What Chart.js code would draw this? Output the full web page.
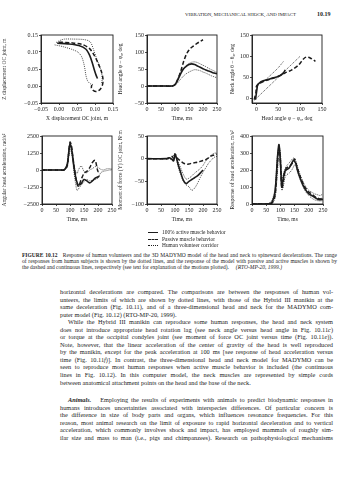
<!DOCTYPE html>
<html>
<head>
<meta charset="utf-8">
<script src="https://cdn.jsdelivr.net/npm/chart.js@4.4.0/dist/chart.umd.min.js"></script>
<style>
html, body { margin: 0; padding: 0; background: #fff; }
body { width: 348px; height: 480px; position: relative; overflow: hidden;
       font-family: 'Liberation Serif', 'DejaVu Serif', serif; color: #1c1c1c; }
canvas { position: absolute; }
.hdr { position: absolute; top: 12px; left: 185px; font-size: 4.9px; white-space: nowrap; }
.pg { position: absolute; top: 11px; left: 317px; font-size: 6px; font-weight: bold; }
.legend { position: absolute; left: 148px; top: 229px; font-size: 5.4px; line-height: 6.6px; }
.legend span { display: inline-block; width: 10px; margin-right: 4px; vertical-align: middle; border-top: 1.4px solid #1c1c1c; }
.legend .dash { border-top-style: dashed; }
.legend .dot { border-top: 1px dotted #1c1c1c; }
.cap { position: absolute; left: 22px; width: 315px; top: 252px; font-size: 5.5px; line-height: 6.1px; }
.cap div, .body div { white-space: nowrap; text-align: justify; text-align-last: justify; }
.cap div.last, .body div.last { text-align-last: left; }
.body { position: absolute; left: 60px; width: 273px; font-size: 6.3px; line-height: 7.55px; }
.ind { text-indent: 8px; }
</style>
</head>
<body>
<div class="hdr">VIBRATION, MECHANICAL SHOCK, AND IMPACT</div>
<div class="pg">10.19</div>

<canvas id="c1" width="120" height="93" style="left:0px;top:29px"></canvas>
<canvas id="c2" width="108" height="93" style="left:116px;top:29px"></canvas>
<canvas id="c3" width="101" height="93" style="left:228px;top:29px"></canvas>
<canvas id="c4" width="119" height="99" style="left:0px;top:124px"></canvas>
<canvas id="c5" width="108" height="99" style="left:116px;top:124px"></canvas>
<canvas id="c6" width="102" height="99" style="left:228px;top:124px"></canvas>

<div class="legend">
  <div><span></span>100% active muscle behavior</div>
  <div><span class="dash"></span>Passive muscle behavior</div>
  <div><span class="dot"></span>Human volunteer corridor</div>
</div>

<div class="cap">
  <div><b>FIGURE 10.12</b>&nbsp;&nbsp; Response of human volunteers and the 3D MADYMO model of the head and neck to spineward decelerations. The range</div>
  <div>of responses from human subjects is shown by the dotted lines, and the response of the model with passive and active muscles is shown by</div>
  <div class="last">the dashed and continuous lines, respectively (see text for explanation of the motions plotted).&nbsp;&nbsp;&nbsp;&nbsp; <i>(RTO-MP-20, 1999.)</i></div>
</div>

<div class="body" style="top:288px">
  <div>horizontal decelerations are compared. The comparisons are between the responses of human vol-</div>
  <div>unteers, the limits of which are shown by dotted lines, with those of the Hybrid III manikin at the</div>
  <div>same deceleration (Fig. 10.11), and of a three-dimensional head and neck for the MADYMO com-</div>
  <div class="last">puter model (Fig. 10.12) (RTO-MP-20, 1999).</div>
  <div class="ind">While the Hybrid III manikin can reproduce some human responses, the head and neck system</div>
  <div>does not introduce appropriate head rotation lag (see neck angle versus head angle in Fig. 10.11<i>c</i>)</div>
  <div>or torque at the occipital condyles joint (see moment of force OC joint versus time (Fig. 10.11<i>e</i>)).</div>
  <div>Note, however, that the linear acceleration of the center of gravity of the head is well reproduced</div>
  <div>by the manikin, except for the peak acceleration at 100 ms [see response of head acceleration versus</div>
  <div>time (Fig. 10.11<i>f</i>)]. In contrast, the three-dimensional head and neck model for MADYMO can be</div>
  <div>seen to reproduce most human responses when active muscle behavior is included (the continuous</div>
  <div>lines in Fig. 10.12). In this computer model, the neck muscles are represented by simple cords</div>
  <div class="last">between anatomical attachment points on the head and the base of the neck.</div>
</div>
<div class="body" style="top:396px">
  <div class="ind"><b><i>Animals.</i></b>&nbsp;&nbsp; Employing the results of experiments with animals to predict biodynamic responses in</div>
  <div>humans introduces uncertainties associated with interspecies differences. Of particular concern is</div>
  <div>the difference in size of body parts and organs, which influences resonance frequencies. For this</div>
  <div>reason, most animal research on the limit of exposure to rapid horizontal deceleration and to vertical</div>
  <div>acceleration, which commonly involves shock and impact, has employed mammals of roughly sim-</div>
  <div>ilar size and mass to man (i.e., pigs and chimpanzees). Research on pathophysiological mechanisms</div>
</div>

<script>
const FONT = "'Liberation Serif', 'DejaVu Serif', serif";
const INK = '#1c1c1c';

// (a) Z vs X displacement of the OC joint, m
const dispActiveX  = [-0.005, 0.025, 0.055, 0.075, 0.086, 0.093, 0.098, 0.103, 0.107];
const dispActiveZ  = [0.126, 0.124, 0.119, 0.108, 0.088, 0.066, 0.048, 0.032, 0.022];
const dispPassiveX = [0.000, 0.035, 0.065, 0.085, 0.098, 0.108, 0.117, 0.122, 0.121, 0.114, 0.104, 0.095, 0.090, 0.091];
const dispPassiveZ = [0.129, 0.127, 0.122, 0.110, 0.090, 0.068, 0.045, 0.022, 0.004, -0.010, -0.016, -0.013, -0.005, 0.003];
const dispHumanUpX = [-0.008, 0.005, 0.015, 0.040, 0.065, 0.080, 0.088, 0.095, 0.103, 0.112, 0.118, 0.120, 0.117];
const dispHumanUpZ = [0.128, 0.135, 0.138, 0.138, 0.137, 0.134, 0.128, 0.110, 0.085, 0.060, 0.040, 0.020, 0.005];
const dispHumanLoX = [-0.012, 0.010, 0.035, 0.052, 0.062, 0.068, 0.072, 0.075, 0.080, 0.088, 0.096];
const dispHumanLoZ = [0.121, 0.116, 0.108, 0.100, 0.088, 0.070, 0.050, 0.030, 0.014, 0.006, 0.004];
const dispTicks = [-0.05, 0, 0.05, 0.10, 0.15];

// (b) head angle vs time, deg
const angT           = [0, 50, 90, 100, 110, 120, 130, 140, 150, 160, 170, 180, 190, 200, 210, 220, 230, 240, 250];
const headAngActive  = [0, 0, 0, 4, 18, 36, 50, 58, 63, 65, 63, 59, 55, 51, 47, 44, 41, 38, 36];
const headAngHumUp   = [0, 0, 0, 5, 22, 40, 52, 60, 66, 70, 71, 69, 65, 61, 57, 52, 48, 44, 40];
const headAngHumLo   = [0, 0, 0, 2, 10, 20, 29, 36, 41, 45, 48, 47, 45, 41, 38, 34, 30, 27, 24];
const angPassiveT    = [0, 50, 90, 100, 110, 120, 130, 140, 150, 160, 170, 180, 190, 200];
const headAngPassive = [0, 0, 0, 4, 20, 42, 70, 92, 106, 114, 120, 126, 131, 136];

// (c) neck angle vs head angle, deg
const neckActiveX  = [-2, 1, 3, 8, 13, 22, 32, 42, 51, 58, 62, 66];
const neckActiveY  = [-2, 20, 33, 38, 41, 44, 47, 50, 53, 57, 61, 68];
const neckPassiveX = [-5, -1, 0, 4, 9, 25, 40, 55, 66, 81, 97, 107, 114, 123, 135];
const neckPassiveY = [-2, 15, 29, 34, 37, 44, 49, 55, 61, 68, 80, 93, 98, 96, 88];
const neckHumUpX   = [0, 5, 17, 35, 50, 62];
const neckHumUpY   = [20, 34, 41, 58, 73, 88];
const neckHumLoX   = [-6, 100];
const neckHumLoY   = [-5, 100];
const angleTicks = [0, 50, 100, 150];

// (d) angular head acceleration vs time, rad/s2
const accT       = [0, 60, 80, 90, 95, 100, 105, 110, 115, 120, 125, 130, 140, 150, 160, 170, 180, 190, 200, 210, 220, 230, 240, 250];
const accHumUp   = [0, 0, 30, 500, 1400, 2000, 1700, 1000, 300, -100, -300, 0, 300, -100, -200, 0, 100, 250, 200, 50, 0, 80, 100, 60];
const accHumLo   = [0, 0, 0, 200, 900, 1500, 1300, 600, -300, -1000, -1500, -1400, -1100, -900, -700, -800, -750, -700, -600, -200, -100, -50, 0, 0];
const accActT    = [0, 60, 80, 90, 95, 100, 105, 110, 115, 120, 125, 130, 140, 150, 160, 170, 180, 190, 200, 205];
const accActive  = [0, 0, 20, 400, 1200, 1900, 1600, 900, 100, -500, -900, -1100, -1000, -700, -800, -950, -800, -600, -500, -450];
const accPasT    = [0, 60, 80, 90, 95, 100, 105, 110, 115, 120, 125, 130, 140, 150, 160, 170, 180, 190, 200, 210];
const accPassive = [0, 0, 10, 300, 1100, 2050, 1800, 1000, 200, -500, -1000, -1200, -700, -250, -100, 150, 550, 700, -100, -150];

// (e) moment of force (Y) at OC joint vs time, N m
const momT       = [0, 70, 80, 90, 95, 100, 105, 110, 120, 130, 140, 150, 160, 170, 180, 190, 200, 210, 220, 230, 240, 250];
const momPassive = [0, 0, 2, 5, 0, 10, 5, 0, -5, -10, -12, -12, -10, -9, -8, -6, -4, -2, 2, 6, 8, 10];
const momHumUp   = [0, 0, 0, 3, 8, 12, 5, -5, -20, -35, -45, -43, -38, -32, -27, -22, -15, -5, 2, 8, 12, 12];
const momHumLo   = [0, 0, 0, -3, -5, 5, 0, -15, -35, -50, -58, -62, -70, -65, -55, -42, -30, -20, -10, -3, 3, 5];
const momActT    = [0, 70, 80, 90, 95, 100, 105, 110, 120, 130, 140, 150, 160, 170, 180, 190, 200];
const momActive  = [0, 0, 2, -2, -5, 8, 2, -10, -30, -48, -55, -50, -46, -42, -38, -32, -25];

// (f) head acceleration vs time, m/s2
const linT       = [0, 50, 60, 70, 80, 85, 90, 95, 100, 105, 110, 115, 120, 130, 140, 145, 150, 155, 160, 170, 180, 190, 200, 210, 220, 230, 240, 250];
const linActive  = [0, 0, 2, 10, 60, 150, 280, 350, 250, 100, 150, 190, 200, 210, 240, 255, 250, 235, 200, 150, 110, 80, 60, 50, 40, 30, 25, 30];
const linPassive = [0, 0, 0, 5, 40, 120, 250, 330, 260, 90, 130, 180, 210, 220, 235, 250, 265, 240, 210, 160, 120, 90, 70, 60, 45, 35, 30, 35];
const linHumUp   = [0, 0, 5, 20, 80, 170, 290, 340, 300, 150, 170, 200, 220, 240, 260, 270, 265, 250, 220, 170, 130, 100, 80, 70, 60, 55, 50, 60];
const linHumLo   = [0, 0, 0, 2, 30, 90, 200, 280, 220, 80, 100, 150, 170, 180, 200, 215, 230, 220, 190, 140, 100, 70, 50, 35, 25, 20, 18, 20];

const timeTicks = [0, 50, 100, 150, 200, 250];

function pts(xs, ys) {
    return xs.map((x, i) => ({ x: x, y: ys[i] }));
}

// line looks: continuous = active, dashed = passive, dotted = volunteers
function line(kind, xs, ys) {
    const base = { data: pts(xs, ys), showLine: true, pointRadius: 0, borderColor: INK, fill: false, tension: 0.3 };
    if (kind === 'solid') return { ...base, borderWidth: 1.6 };
    if (kind === 'dash') return { ...base, borderWidth: 1.5, borderDash: [4, 2.2] };
    return { ...base, borderWidth: 0.8, borderDash: [1, 1.1] };
}

function minus(s) { return String(s).replace('-', '\u2212'); }

function axis(opts) {
    const ax = {
        type: 'linear', min: opts.min, max: opts.max,
        afterBuildTicks: s => { s.ticks = opts.ticks.map(v => ({ value: v })); },
        afterFit: s => { if (opts.size.w) s.width = opts.size.w; else s.height = opts.size.h; },
        ticks: {
            autoSkip: false, maxRotation: 0, padding: 1, color: INK,
            font: { size: 6, family: FONT },
            callback: v => minus(opts.fmt ? opts.fmt(v) : v)
        },
        grid: { drawOnChartArea: false, drawTicks: true, tickLength: 2, color: INK, lineWidth: 0.8 },
        border: { color: INK, width: 0.9 },
        title: { display: true, text: opts.title, color: INK, font: { size: 5.5, family: FONT }, padding: { top: 1, bottom: 0 } }
    };
    return ax;
}

const framePlugin = {
    id: 'frame',
    afterDraw(chart) {
        const a = chart.chartArea, ctx = chart.ctx;
        ctx.save();
        ctx.strokeStyle = INK;
        ctx.lineWidth = 0.9;
        ctx.strokeRect(a.left, a.top, a.right - a.left, a.bottom - a.top);
        ctx.restore();
    }
};

function makeChart(id, datasets, xAxis, yAxis, padTop) {
    return new Chart(document.getElementById(id), {
        type: 'scatter',
        data: { datasets: datasets },
        options: {
            responsive: false,
            animation: false,
            layout: { padding: { top: padTop, right: 7, left: 0, bottom: 0 } },
            plugins: { legend: { display: false }, tooltip: { enabled: false } },
            scales: { x: xAxis, y: yAxis }
        },
        plugins: [framePlugin]
    });
}

const two = v => v.toFixed(2);

makeChart('c1', [
    line('dot', dispHumanUpX, dispHumanUpZ),
    line('dot', dispHumanLoX, dispHumanLoZ),
    line('dash', dispPassiveX, dispPassiveZ),
    line('solid', dispActiveX, dispActiveZ)
],
    axis({ min: -0.05, max: 0.15, ticks: dispTicks, fmt: two, title: 'X displacement OC joint, m', size: { h: 19 } }),
    axis({ min: -0.05, max: 0.15, ticks: dispTicks, fmt: two, title: 'Z displacement OC joint, m', size: { w: 41 } }), 6);

makeChart('c2', [
    line('dot', angT, headAngHumUp),
    line('dot', angT, headAngHumLo),
    line('dash', angPassiveT, headAngPassive),
    line('solid', angT, headAngActive)
],
    axis({ min: 0, max: 250, ticks: timeTicks, title: 'Time, ms', size: { h: 19 } }),
    axis({ min: -50, max: 150, ticks: [-50, 0, 50, 100, 150], title: 'Head angle \u03c6 \u2212 \u03c6\u2080, deg', size: { w: 31 } }), 6);

makeChart('c3', [
    line('dot', neckHumUpX, neckHumUpY),
    line('dot', neckHumLoX, neckHumLoY),
    line('dash', neckPassiveX, neckPassiveY),
    line('solid', neckActiveX, neckActiveY)
],
    axis({ min: -10, max: 150, ticks: angleTicks, title: 'Head angle \u03c6 \u2212 \u03c6\u2080, deg', size: { h: 19 } }),
    axis({ min: -10, max: 150, ticks: angleTicks, title: 'Neck angle \u03b8 \u2212 \u03b8\u2080, deg', size: { w: 24 } }), 6);

makeChart('c4', [
    line('dot', accT, accHumUp),
    line('dot', accT, accHumLo),
    line('dash', accPasT, accPassive),
    line('solid', accActT, accActive)
],
    axis({ min: 0, max: 250, ticks: timeTicks, title: 'Time, ms', size: { h: 19 } }),
    axis({ min: -2500, max: 2500, ticks: [-2500, -1250, 0, 1250, 2500], title: 'Angular head acceleration, rad/s\u00b2', size: { w: 42 } }), 12);

makeChart('c5', [
    line('dot', momT, momHumUp),
    line('dot', momT, momHumLo),
    line('dash', momT, momPassive),
    line('solid', momActT, momActive)
],
    axis({ min: 0, max: 250, ticks: timeTicks, title: 'Time, ms', size: { h: 19 } }),
    axis({ min: -100, max: 50, ticks: [-100, -50, 0, 50], title: 'Moment of force (Y) OC joint, N\u00b7m', size: { w: 31 } }), 12);

makeChart('c6', [
    line('dot', linT, linHumUp),
    line('dot', linT, linHumLo),
    line('dash', linT, linPassive),
    line('solid', linT, linActive)
],
    axis({ min: 0, max: 250, ticks: timeTicks, title: 'Time, ms', size: { h: 19 } }),
    axis({ min: 0, max: 400, ticks: [0, 100, 200, 300, 400], title: 'Response of head acceleration, m/s\u00b2', size: { w: 24 } }), 12);
</script>
</body>
</html>
